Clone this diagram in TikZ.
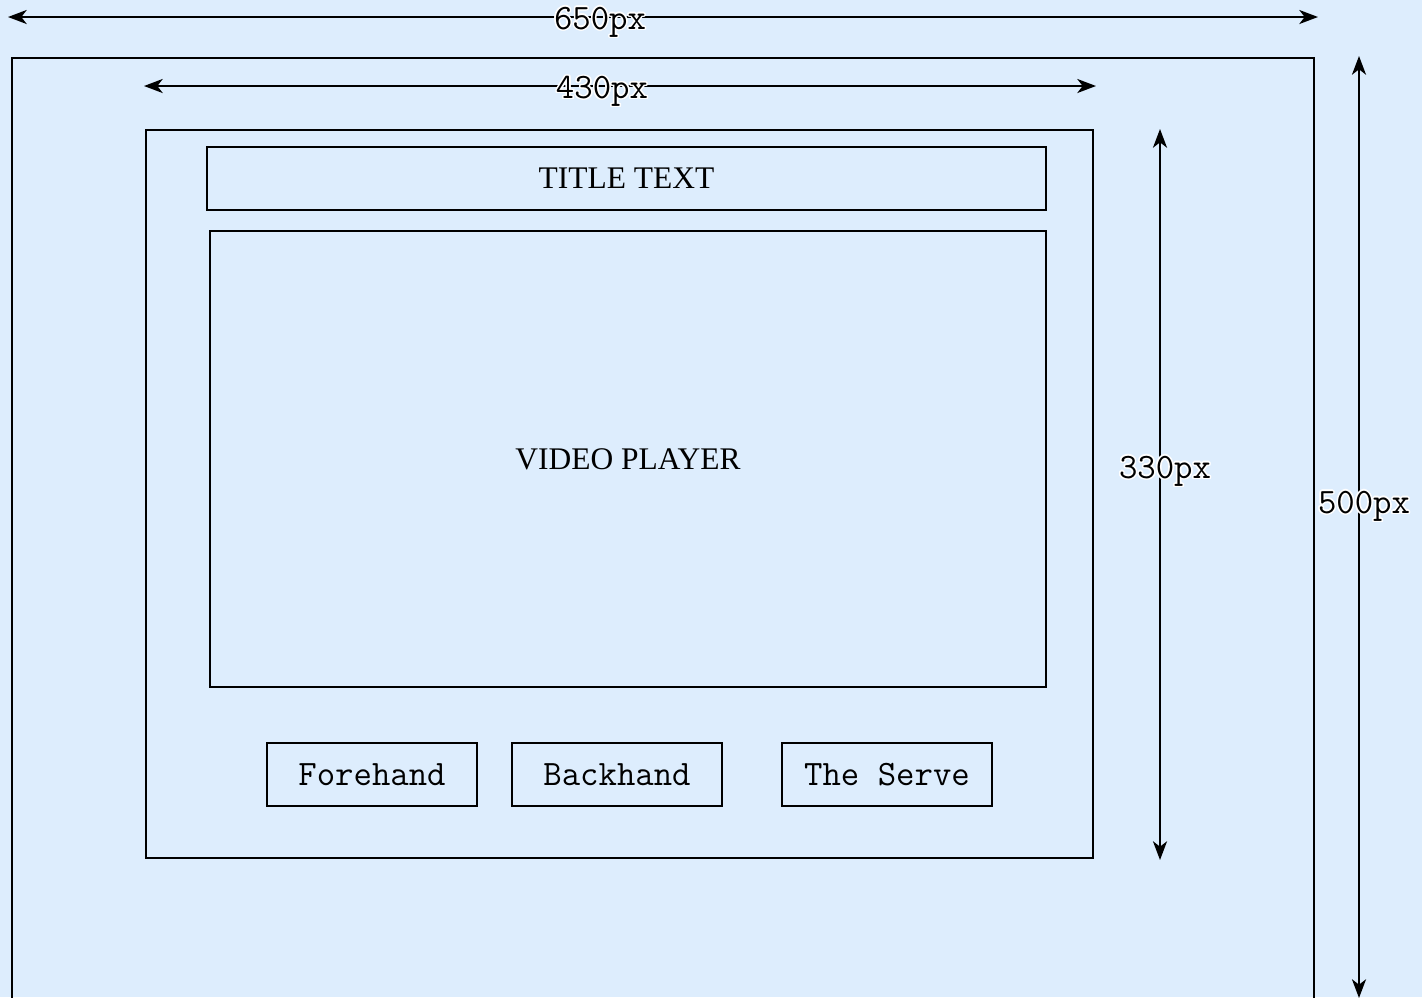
\documentclass[tikz,border=0pt]{standalone}
\usepackage{fontspec}
\setmainfont{Liberation Serif}
\usepackage[copies]{contour}
\contourlength{1.1pt}
\usetikzlibrary{arrows.meta}
\definecolor{bg}{RGB}{221,237,253}
\tikzset{
  box/.style={draw=black, line width=1.7pt, rectangle, inner sep=0pt, outer sep=0pt},
  serif/.style={font=\fontsize{23.6}{28}\selectfont\rmfamily, text height=15.6pt, text depth=0pt},
  mono/.style={font=\fontsize{26.8}{30}\selectfont\ttfamily},
  dim/.style={line width=1.7pt, {Stealth[length=14pt,width=10.5pt,inset=4pt]}-{Stealth[length=14pt,width=10.5pt,inset=4pt]}},
  dimlabel/.style={mono, inner sep=0pt}
}
\begin{document}
\begin{tikzpicture}[x=0.75pt,y=-0.75pt]
\useasboundingbox (0,0) rectangle (1422,997);
\fill[bg] (0,0) rectangle (1422,997);

% outer frame (650 x 500)
\node[box, anchor=north west, minimum width=1302*0.75pt, minimum height=1001*0.75pt] (outer) at (12,58) {};
% inner frame (430 x 330)
\node[box, minimum width=947*0.75pt, minimum height=728*0.75pt] (inner) at (619.5,494) {};
% title
\node[box, serif, minimum width=839*0.75pt, minimum height=63*0.75pt] (title) at (626.5,178.5) {TITLE TEXT};
% video
\node[box, serif, minimum width=836*0.75pt, minimum height=456*0.75pt] (video) at (628,459) {VIDEO PLAYER};
% buttons
\node[box, mono, minimum width=210*0.75pt, minimum height=63*0.75pt] (fore) at (372,774.5) {Forehand};
\node[box, mono, minimum width=210*0.75pt, minimum height=63*0.75pt] (back) at (617,774.5) {Backhand};
\node[box, mono, minimum width=210*0.75pt, minimum height=63*0.75pt] (serve) at (887,774.5) {The Serve};

% dimension endpoints
\coordinate (w650l) at (8,17);
\coordinate (w650r) at (1318,17);
\coordinate (w430l) at (144,86);
\coordinate (w430r) at (1096,86);
\coordinate (h330t) at (1160,129);
\coordinate (h330b) at (1160,860);
\coordinate (h500t) at (1359,56);
\coordinate (h500b) at (1359,998);

\draw[dim] (w650l) -- (w650r);
\draw[dim] (w430l) -- (w430r);
\draw[dim] (h330t) -- (h330b);
\draw[dim] (h500t) -- (h500b);

\node[dimlabel] (l650) at (600,23) {\contour{white}{650px}};
\node[dimlabel] (l430) at (602,92) {\contour{white}{430px}};
\node[dimlabel] (l330) at (1165,472) {\contour{white}{330px}};
\node[dimlabel] (l500) at (1364,507) {\contour{white}{500px}};
\end{tikzpicture}
\end{document}
